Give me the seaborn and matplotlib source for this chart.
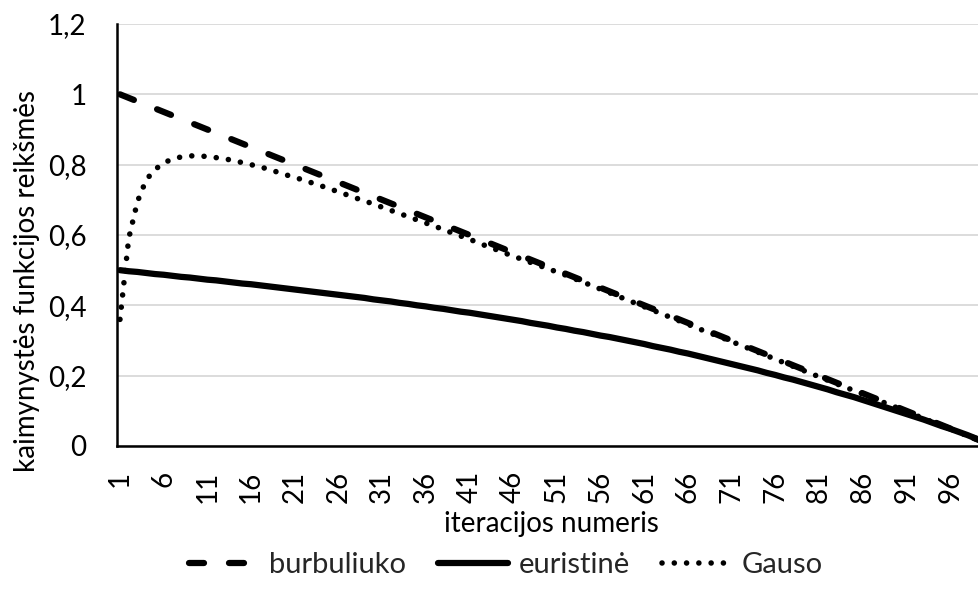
import matplotlib
matplotlib.use("Agg")
import matplotlib.pyplot as plt
from matplotlib.lines import Line2D
from matplotlib.ticker import FuncFormatter
import pandas as pd
import seaborn as sns

# iteration numbers 1..100
iteracijos = list(range(1, 101))

burbuliuko = [
    1.00, 0.99, 0.98, 0.97, 0.96, 0.95, 0.94, 0.93, 0.92, 0.91,
    0.90, 0.89, 0.88, 0.87, 0.86, 0.85, 0.84, 0.83, 0.82, 0.81,
    0.80, 0.79, 0.78, 0.77, 0.76, 0.75, 0.74, 0.73, 0.72, 0.71,
    0.70, 0.69, 0.68, 0.67, 0.66, 0.65, 0.64, 0.63, 0.62, 0.61,
    0.60, 0.59, 0.58, 0.57, 0.56, 0.55, 0.54, 0.53, 0.52, 0.51,
    0.50, 0.49, 0.48, 0.47, 0.46, 0.45, 0.44, 0.43, 0.42, 0.41,
    0.40, 0.39, 0.38, 0.37, 0.36, 0.35, 0.34, 0.33, 0.32, 0.31,
    0.30, 0.29, 0.28, 0.27, 0.26, 0.25, 0.24, 0.23, 0.22, 0.21,
    0.20, 0.19, 0.18, 0.17, 0.16, 0.15, 0.14, 0.13, 0.12, 0.11,
    0.10, 0.09, 0.08, 0.07, 0.06, 0.05, 0.04, 0.03, 0.02, 0.01,
]

euristine = [
    0.500, 0.497, 0.495, 0.492, 0.489, 0.487, 0.484, 0.481, 0.479, 0.476,
    0.473, 0.471, 0.468, 0.465, 0.462, 0.460, 0.457, 0.454, 0.451, 0.448,
    0.445, 0.442, 0.439, 0.436, 0.433, 0.430, 0.427, 0.424, 0.421, 0.417,
    0.414, 0.411, 0.407, 0.404, 0.400, 0.397, 0.393, 0.390, 0.386, 0.382,
    0.379, 0.375, 0.371, 0.367, 0.363, 0.359, 0.355, 0.350, 0.346, 0.342,
    0.337, 0.333, 0.328, 0.324, 0.319, 0.314, 0.310, 0.305, 0.300, 0.295,
    0.290, 0.284, 0.279, 0.274, 0.268, 0.263, 0.257, 0.251, 0.245, 0.239,
    0.233, 0.227, 0.221, 0.215, 0.208, 0.202, 0.195, 0.189, 0.182, 0.175,
    0.168, 0.161, 0.153, 0.146, 0.139, 0.131, 0.123, 0.115, 0.107, 0.099,
    0.091, 0.083, 0.075, 0.066, 0.057, 0.049, 0.040, 0.031, 0.021, 0.012,
]

gauso = [
    0.360, 0.590, 0.695, 0.757, 0.786, 0.805, 0.816, 0.822, 0.825, 0.825,
    0.823, 0.820, 0.817, 0.811, 0.806, 0.800, 0.794, 0.787, 0.779, 0.771,
    0.764, 0.756, 0.748, 0.740, 0.731, 0.723, 0.714, 0.705, 0.697, 0.688,
    0.679, 0.670, 0.661, 0.652, 0.643, 0.634, 0.625, 0.616, 0.606, 0.597,
    0.588, 0.578, 0.568, 0.559, 0.549, 0.540, 0.531, 0.522, 0.513, 0.504,
    0.495, 0.486, 0.476, 0.466, 0.456, 0.446, 0.436, 0.426, 0.416, 0.406,
    0.396, 0.386, 0.376, 0.366, 0.356, 0.346, 0.336, 0.326, 0.317, 0.307,
    0.297, 0.287, 0.277, 0.267, 0.257, 0.247, 0.237, 0.227, 0.217, 0.207,
    0.197, 0.187, 0.177, 0.167, 0.158, 0.148, 0.138, 0.128, 0.118, 0.108,
    0.098, 0.088, 0.078, 0.068, 0.059, 0.049, 0.039, 0.029, 0.020, 0.010,
]

serijos = ["burbuliuko", "euristinė", "Gauso"]
x_zymes = list(range(1, 101, 5))
y_zymes = [0, 0.2, 0.4, 0.6, 0.8, 1.0, 1.2]

df = pd.DataFrame({
    "iteracija": iteracijos * 3,
    "reikšmė": burbuliuko + euristine + gauso,
    "serija": [serijos[0]] * 100 + [serijos[1]] * 100 + [serijos[2]] * 100,
})

sns.set_theme(style="white")
plt.rcParams["font.family"] = ["Lato", "DejaVu Sans"]
FS = 20
FS_LEG = 21

LW = 4.5
LW_DOT = 4.0
stiliai = {
    "burbuliuko": (2.4, 4.0),
    "euristinė": "",
    "Gauso": (0.01, 2.2),
}
storiai = {"burbuliuko": LW, "euristinė": LW, "Gauso": LW_DOT}

fig = plt.figure(figsize=(9.79, 5.89), dpi=100)
ax = fig.add_axes([117 / 979, 143 / 589, 868 / 979, 422 / 589])

sns.lineplot(
    data=df, x="iteracija", y="reikšmė", style="serija",
    style_order=serijos, dashes=stiliai, color="black",
    linewidth=LW, legend=False, ax=ax,
    dash_capstyle="round", solid_capstyle="round",
)
for line, name in zip(ax.lines, serijos):
    line.set_linewidth(storiai[name])

ax.set_xlim(0.66, 100)
ax.set_ylim(0, 1.2)
ax.set_yticks(y_zymes)
ax.yaxis.set_major_formatter(
    FuncFormatter(lambda v, p: f"{v:g}".replace(".", ","))
)
ax.set_xticks(x_zymes)
ax.set_xticklabels([str(v) for v in x_zymes], rotation=90, va="top")

ax.grid(axis="y", color="#D9D9D9", linewidth=1.3)
ax.grid(axis="x", visible=False)
for side in ("top", "right"):
    ax.spines[side].set_visible(False)
for side in ("left", "bottom"):
    ax.spines[side].set_color("black")
    ax.spines[side].set_linewidth(1.8)

ax.tick_params(axis="y", length=0, pad=22, labelsize=FS, colors="black")
ax.tick_params(axis="x", length=0, pad=18, labelsize=FS, colors="black")

ax.set_xlabel("iteracijos numeris", fontsize=FS, color="black")
ax.xaxis.label.set_va("center")
ax.xaxis.set_label_coords(0.5, (446 - 524) / 422)
ax.set_ylabel("kaimynystės funkcijos reikšmės", fontsize=FS, color="black")
ax.yaxis.label.set_va("center")
ax.yaxis.set_label_coords((27 - 117) / 868, (446 - 281) / 422)

rankenos = [
    Line2D([], [], color="black", linewidth=LW, dashes=stiliai["burbuliuko"],
           dash_capstyle="round", label=serijos[0]),
    Line2D([], [], color="black", linewidth=LW, linestyle="-",
           solid_capstyle="round", label=serijos[1]),
    Line2D([], [], color="black", linewidth=LW_DOT, dashes=stiliai["Gauso"],
           dash_capstyle="round", label=serijos[2]),
]
fig.legend(
    handles=rankenos, loc="center", ncol=3, frameon=False,
    bbox_to_anchor=(506 / 979, 1 - 565 / 589), fontsize=FS_LEG,
    handlelength=2.4, handletextpad=0.35, columnspacing=1.1,
)

fig.savefig("out.png", dpi=100)
